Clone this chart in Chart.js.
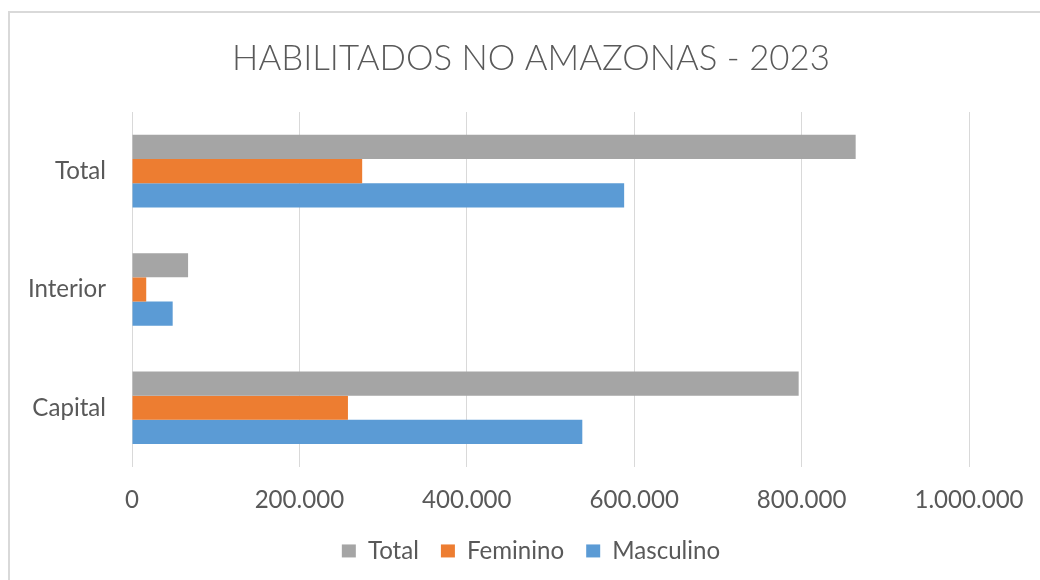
<!DOCTYPE html>
<html><head><meta charset="utf-8">
<script src="https://cdn.jsdelivr.net/npm/chart.js@4.4.0/dist/chart.umd.min.js"></script>
<style>
html,body{margin:0;padding:0;background:#fff;overflow:hidden;width:1040px;height:580px;}
#frame{position:absolute;left:8px;top:11px;width:1100px;height:620px;border:2px solid #d9d9d9;box-sizing:border-box;}
#wrap{position:absolute;left:0;top:0;width:1060px;height:580px;}
</style></head><body>
<div id="frame"></div>
<div id="wrap"><canvas id="c" width="1060" height="580"></canvas></div>
<script>
// ---- data ----
const categories = ['Total', 'Interior', 'Capital'];
const seriesNames = ['Total', 'Feminino', 'Masculino'];
const totalValues = [864600, 67000, 796500];
const femininoValues = [275000, 17000, 258000];
const masculinoValues = [588000, 48600, 538000];
const xTickLabels = ['0', '200.000', '400.000', '600.000', '800.000', '1.000.000'];
const chartTitle = 'HABILITADOS NO AMAZONAS - 2023';

// ---- styling ----
const FAMILY = 'Lato, "Open Sans", sans-serif';
const TEXT = '#595959';
const GRID = '#d9d9d9';
const colors = ['#A5A5A5', '#ED7D31', '#5B9BD5'];

function fitSize(text, width, weight) {
  const cv = document.createElement('canvas').getContext('2d');
  cv.font = (weight || 400) + ' 100px ' + FAMILY;
  return 100 * width / cv.measureText(text).width;
}
const fs = fitSize('Masculino', 108, 400);
const ts = fitSize(chartTitle, 598, 300);

const padTop = 59 - 0.6 * ts;
const padBottom = 53 - 0.6 * ts;

new Chart(document.getElementById('c'), {
  type: 'bar',
  data: {
    labels: categories,
    datasets: [
      { label: seriesNames[0], data: totalValues, backgroundColor: colors[0] },
      { label: seriesNames[1], data: femininoValues, backgroundColor: colors[1] },
      { label: seriesNames[2], data: masculinoValues, backgroundColor: colors[2] }
    ]
  },
  options: {
    indexAxis: 'y',
    responsive: false,
    animation: false,
    devicePixelRatio: 1,
    categoryPercentage: 0.614,
    barPercentage: 1.0,
    layout: { padding: { left: 10, right: 8, top: 0, bottom: 7 } },
    scales: {
      x: {
        min: 0, max: 1000000,
        afterFit: (s) => { s.height = 50; },
        ticks: {
          stepSize: 200000,
          padding: 19,
          color: TEXT,
          font: { family: FAMILY, size: fs },
          maxRotation: 0,
          callback: (v, i) => xTickLabels[i]
        },
        grid: { color: GRID, lineWidth: 1, drawTicks: false },
        border: { display: false }
      },
      y: {
        afterFit: (s) => { s.width = 122; },
        ticks: { padding: 26, color: TEXT, font: { family: FAMILY, size: fs } },
        grid: { display: false, drawTicks: false },
        border: { display: false }
      },
      yRight: {
        axis: 'y',
        type: 'category',
        position: 'right',
        afterFit: (s) => { s.width = 83; },
        ticks: { display: false },
        grid: { display: false, drawTicks: false },
        border: { display: false }
      }
    },
    plugins: {
      title: {
        display: true,
        text: chartTitle,
        color: TEXT,
        font: { family: FAMILY, size: ts, weight: 300 },
        lineHeight: 1.2,
        padding: { top: padTop, bottom: padBottom }
      },
      legend: {
        position: 'bottom',
        labels: {
          boxWidth: 14, boxHeight: 13, padding: 22,
          color: TEXT,
          font: { family: FAMILY, size: fs }
        }
      },
      tooltip: { enabled: false }
    }
  }
});
</script>
</body></html>
